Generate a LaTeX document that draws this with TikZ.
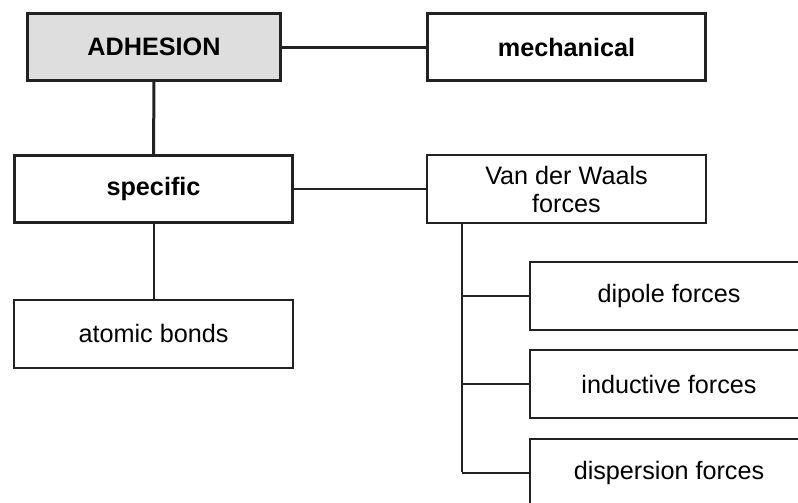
\documentclass[tikz,border=0pt]{standalone}
\usepackage{fontspec}
\setmainfont{Liberation Sans}
\usetikzlibrary{positioning}
\definecolor{ink}{HTML}{222222}
\definecolor{shade}{HTML}{DEDEDE}
\tikzset{
  box/.style={draw=ink, line width=1pt, minimum width=139.5pt, minimum height=34pt,
    inner sep=0pt, align=center, font=\fontsize{12.6}{14}\selectfont},
  heavybox/.style={box, line width=1.5pt, minimum width=139pt, minimum height=33.5pt,
    font=\fontsize{12.6}{14}\selectfont\bfseries},
  link/.style={draw=ink, line width=1pt},
  heavylink/.style={draw=ink, line width=1.5pt}
}
\begin{document}
\begin{tikzpicture}[x=0.5pt,y=-0.5pt]
\useasboundingbox (0,0) rectangle (798,503);
\clip (0,0) rectangle (798,503);
\node[heavybox, fill=shade, minimum width=126.5pt] (adh) at (154,47) {ADHESION};
\node[heavybox] (mech) at (566.5,47) {mechanical};
\node[heavybox] (spec) at (153.5,189) {specific};
\node[box] (vdw) at (566.5,189) {Van der Waals\\forces};
\node[box] (atom) at (153.5,333.5) {atomic bonds};
\draw[heavylink] (adh) -- (mech);
\draw[heavylink] (adh) -- (spec);
\draw[link] (spec) -- (vdw);
\draw[link] (spec) -- (atom);
\coordinate (trunk) at (462,472);
\draw[link] (vdw.south -| trunk) -- (trunk);
\foreach \y/\name/\txt in {295.5/dip/dipole forces,
                           384/ind/inductive forces,
                           473/dis/dispersion forces} {
  \node[box] (\name) at (669,\y) {\txt};
  \draw[link] (\name.west) -- (\name.west -| trunk);
}
\end{tikzpicture}
\end{document}
